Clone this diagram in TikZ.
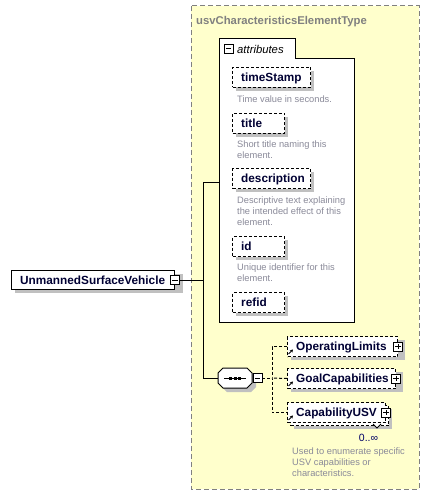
\documentclass[tikz,border=0pt]{standalone}
\usepackage{fontspec}
\setmainfont{Liberation Sans}
\usetikzlibrary{arrows.meta}
\definecolor{yel}{HTML}{FFFFCC}
\definecolor{shadowc}{HTML}{C0C0C0}
\definecolor{ttlc}{HTML}{808080}
\definecolor{descc}{HTML}{8A8A99}
\definecolor{namec}{HTML}{000033}
\definecolor{occc}{HTML}{000066}
\newcommand\boxshadow[4]{\fill[shadowfill] (#1+4,#2+4) rectangle (#1+#3+4,#2+#4+4);}
\tikzset{
  outerbox/.style={draw=ttlc, fill=yel, line width=1pt, dash pattern=on 5pt off 3pt},
  ebox/.style={draw, fill=white, line width=1pt, dash pattern=on 3pt off 2pt, minimum height=20pt, inner sep=0pt, anchor=north west},
  sbox/.style={draw, fill=white, line width=1pt, minimum height=19pt, inner sep=0pt, anchor=north west},
  ename/.style={anchor=west, inner sep=0pt, text height=8.5pt, text depth=0pt, font=\fontsize{11.8}{13}\selectfont\bfseries, text=namec},
  desc/.style={anchor=north west, inner sep=0pt, align=left, text=descc, font=\fontsize{9.3}{10.7}\selectfont},
  pmbox/.style={draw, fill=white, line width=0.8pt, minimum size=9pt, inner sep=0pt},
  minusbox/.style={pmbox, path picture={\draw[line width=0.8pt] ([xshift=1.8pt]path picture bounding box.west) -- ([xshift=-1.8pt]path picture bounding box.east);}},
  plusbox/.style={pmbox, path picture={\draw[line width=0.8pt] ([xshift=1.8pt]path picture bounding box.west) -- ([xshift=-1.8pt]path picture bounding box.east); \draw[line width=0.8pt] ([yshift=-1.8pt]path picture bounding box.north) -- ([yshift=1.8pt]path picture bounding box.south);}},
  conn/.style={line width=1pt},
  dconn/.style={line width=1pt, dash pattern=on 3pt off 2pt},
  ptr/.style={line width=1pt, -{Stealth[length=3pt,width=3.5pt]}},
  shadowfill/.style={fill=shadowc},
}
\begin{document}
\begin{tikzpicture}[x=1pt,y=-1pt]
\useasboundingbox (0,0) rectangle (429,497);
% outer complex type box
\path[outerbox] (191,6) rectangle (419,489);
\node[anchor=west, inner sep=0pt, text height=8.5pt, text depth=0pt, text=ttlc, font=\fontsize{11.3}{13}\selectfont\bfseries] (ttl) at (196,20) {usvCharacteristicsElementType};
% attributes panel
\draw[fill=white, line width=1pt] (219,322) -- (219,39) -- (295,39) -- (295,59) -- (354,59) -- (354,322) -- cycle;
\node[minusbox] (am) at (228.5,48.5) {};
\node[anchor=west, inner sep=0pt, text height=8pt, text depth=0pt, font=\fontsize{11.3}{13}\selectfont\itshape] (at) at (237,49.5) {attributes};
\coordinate (attrleft) at (219,182);
% attributes
\boxshadow{232}{67}{78}{20}
\node[ebox, minimum width=78pt] (ts) at (232,67) {};
\node[ename] (tsl) at ([xshift=9pt]ts.west) {timeStamp};
\node[desc] (tsd) at (237,96) {Time value in seconds.};
\boxshadow{232}{113}{52}{20}
\node[ebox, minimum width=52pt] (ti) at (232,113) {};
\node[ename] (til) at ([xshift=9pt]ti.west) {title};
\node[desc] (tid) at (237,141) {Short title naming this\\element.};
\boxshadow{232}{168}{78}{20}
\node[ebox, minimum width=78pt] (de) at (232,168) {};
\node[ename] (del) at ([xshift=9pt]de.west) {description};
\node[desc] (ded) at (237,197) {Descriptive text explaining\\the intended effect of this\\element.};
\boxshadow{232}{236}{52}{20}
\node[ebox, minimum width=52pt] (id) at (232,236) {};
\node[ename] (idl) at ([xshift=9pt]id.west) {id};
\node[desc] (idd) at (237,264) {Unique identifier for this\\element.};
\boxshadow{232}{292}{52}{20}
\node[ebox, minimum width=52pt] (rf) at (232,292) {};
\node[ename] (rfl) at ([xshift=9pt]rf.west) {refid};
% root element
\boxshadow{11}{270}{168}{19}
\node[sbox, minimum width=163pt] (usv) at (11,270) {};
\node[ename] (usvl) at ([xshift=9pt]usv.west) {UnmannedSurfaceVehicle};
\node[minusbox] (usvm) at (usv.east) {};
% sequence compositor
\fill[shadowfill] (227,372) -- (251,372) -- (256,377) -- (256,387) -- (251,392) -- (227,392) -- (222,387) -- (222,377) -- cycle;
\draw[fill=white, line width=1pt] (223,368) -- (247,368) -- (252,373) -- (252,383) -- (247,388) -- (223,388) -- (218,383) -- (218,373) -- cycle;
\node[inner sep=0pt, minimum width=34pt, minimum height=20pt] (seq) at (235,378) {};
\draw[line width=1pt] (224,378) -- (246,378);
\foreach \dx in {230.5,235,239.5} \fill (\dx-1.5,376.5) rectangle (\dx+1.5,379.5);
\node[minusbox, fill=white] (seqm) at (257.5,378) {};
% main connectors
\coordinate (ja) at (203,182);
\coordinate (jb) at (203,378);
\draw[conn] (usvm.east) -- (usvm.east -| ja);
\draw[conn] (attrleft) -- (ja) -- (jb) -- (seq.west);
% child elements
\boxshadow{287}{336}{114}{20}
\node[ebox, minimum width=110pt] (ol) at (287,336) {};
\node[ename] (oll) at ([xshift=9pt]ol.west) {OperatingLimits};
\node[plusbox] (olp) at (ol.east) {};
\boxshadow{287}{368}{112}{20}
\node[ebox, minimum width=108pt] (gc) at (287,368) {};
\node[ename] (gcl) at ([xshift=9pt]gc.west) {GoalCapabilities};
\node[plusbox] (gcp) at (gc.east) {};
\boxshadow{290}{405}{98}{20}
\node[ebox, minimum width=98pt] (cb) at (290,405) {};
\draw[fill=white, line width=0.8pt] (373,424) -- (377,428) -- (381,424);
\node[ebox] (cu) at (287,402) [minimum width=98pt] {};
\node[ename] (cul) at ([xshift=9pt]cu.west) {CapabilityUSV};
\node[plusbox] (cup) at (cu.east) {};
\node[inner sep=0pt, text=occc, font=\fontsize{10.5}{12}\selectfont] (occ) at (368.5,438) {0..∞};
\node[desc] (cud) at (292,448) {Used to enumerate specific\\USV capabilities or\\characteristics.};
% dashed sequence connectors
\coordinate (dj) at (272,378);
\draw[dconn] (seqm.east) -- (dj);
\draw[dconn] (ol.west) -| (dj) |- (cu.west);
\draw[dconn] (gc.west) -- (dj);
\foreach \n in {ol,gc,cu} \draw[ptr] ([shift={(1.5,7.5)}]\n.west) -- ([shift={(6,3)}]\n.west);
\end{tikzpicture}
\end{document}
